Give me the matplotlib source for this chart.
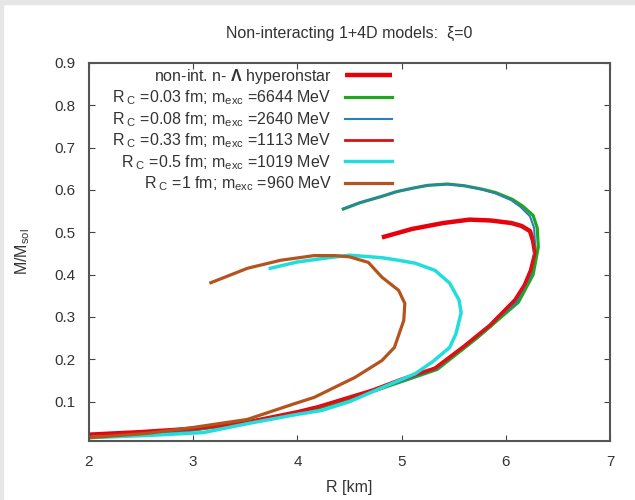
import matplotlib
matplotlib.use("Agg")
import matplotlib.pyplot as plt
from matplotlib.patches import Rectangle

plt.rcParams['font.family'] = ['Liberation Sans', 'DejaVu Sans']
plt.rcParams['mathtext.fontset'] = 'custom'
plt.rcParams['mathtext.rm'] = 'Liberation Sans'
plt.rcParams['mathtext.it'] = 'Liberation Sans:italic'
plt.rcParams['mathtext.bf'] = 'Liberation Sans:bold'

title = "Non-interacting 1+4D models:  ξ=0"
xlabel = "R [km]"
ylabel = r"M/M$_\mathregular{sol}$"
xticks = [2, 3, 4, 5, 6, 7]
yticks = [0.1, 0.2, 0.3, 0.4, 0.5, 0.6, 0.7, 0.8, 0.9]

labels = [
    r"non-int. n- $\mathbf{\Lambda}$ hyperonstar",
    r"R$_{\ \mathregular{C}}$ =0.03 fm; m$_\mathregular{exc}$ =6644 MeV",
    r"R$_{\ \mathregular{C}}$ =0.08 fm; m$_\mathregular{exc}$ =2640 MeV",
    r"R$_{\ \mathregular{C}}$ =0.33 fm; m$_\mathregular{exc}$ =1113 MeV",
    r"R$_{\ \mathregular{C}}$ =0.5 fm; m$_\mathregular{exc}$ =1019 MeV",
    r"R$_{\ \mathregular{C}}$ =1 fm; m$_\mathregular{exc}$ =960 MeV",
]

nonint_R = [2.0, 2.5, 3.0, 3.5, 4.0, 4.2, 4.72, 5.0, 5.32, 5.6, 5.85, 6.09, 6.18, 6.24, 6.28, 6.26, 6.23, 6.15, 6.05, 5.85, 5.65, 5.4, 5.1, 4.81]
nonint_M = [0.022, 0.028, 0.036, 0.05, 0.075, 0.087, 0.126, 0.152, 0.178, 0.23, 0.28, 0.34, 0.375, 0.41, 0.45, 0.48, 0.503, 0.515, 0.522, 0.528, 0.53, 0.522, 0.508, 0.488]

green_R = [2.0, 2.5, 3.0, 3.5, 4.0, 4.2, 4.72, 5.34, 5.72, 6.12, 6.26, 6.31, 6.3, 6.26, 6.16, 6.06, 5.9, 5.77, 5.6, 5.44, 5.25, 5.1, 4.95, 4.81, 4.6, 4.44]
green_M = [0.015, 0.022, 0.033, 0.05, 0.073, 0.085, 0.124, 0.176, 0.25, 0.335, 0.4, 0.465, 0.51, 0.54, 0.562, 0.578, 0.594, 0.602, 0.61, 0.614, 0.611, 0.604, 0.596, 0.585, 0.57, 0.555]

blue_R = [2.0, 2.5, 3.0, 3.5, 4.0, 4.2, 4.72, 5.33, 5.7, 6.1, 6.24, 6.28, 6.27, 6.23, 6.14, 6.05, 5.9, 5.77, 5.6, 5.44, 5.25, 5.1, 4.95, 4.81, 4.6, 4.44]
blue_M = [0.015, 0.022, 0.033, 0.05, 0.074, 0.086, 0.125, 0.177, 0.25, 0.335, 0.4, 0.465, 0.51, 0.538, 0.56, 0.576, 0.592, 0.601, 0.61, 0.614, 0.611, 0.604, 0.596, 0.585, 0.57, 0.556]

red33_R = [2.0, 2.5, 3.0, 3.5, 4.0, 4.2, 4.72, 5.0, 5.32, 5.6, 5.85, 6.09, 6.18, 6.24, 6.28, 6.26, 6.23, 6.15, 6.05]
red33_M = [0.02, 0.027, 0.035, 0.05, 0.075, 0.087, 0.126, 0.152, 0.178, 0.23, 0.28, 0.34, 0.375, 0.41, 0.45, 0.48, 0.503, 0.515, 0.522]

cyan_R = [2.0, 2.56, 3.1, 3.52, 4.0, 4.23, 4.5, 4.81, 5.13, 5.3, 5.46, 5.52, 5.57, 5.55, 5.46, 5.32, 5.13, 4.97, 4.81, 4.5, 4.3, 4.0, 3.74]
cyan_M = [0.015, 0.02, 0.027, 0.048, 0.07, 0.079, 0.1, 0.133, 0.166, 0.195, 0.228, 0.26, 0.31, 0.34, 0.38, 0.41, 0.427, 0.434, 0.44, 0.446, 0.44, 0.43, 0.415]

brown_R = [2.01, 2.56, 3.0, 3.52, 3.97, 4.16, 4.55, 4.81, 4.93, 5.02, 5.03, 4.97, 4.81, 4.68, 4.5, 4.36, 4.16, 3.84, 3.52, 3.17]
brown_M = [0.015, 0.025, 0.039, 0.058, 0.095, 0.11, 0.157, 0.197, 0.228, 0.292, 0.332, 0.363, 0.394, 0.429, 0.442, 0.445, 0.445, 0.434, 0.415, 0.381]

fig = plt.figure(figsize=(6.35, 5.0), dpi=100)
fig.patch.set_facecolor('white')
fig.patches.append(Rectangle((0, 0.992), 1, 0.008, transform=fig.transFigure, color='#e6e6e6', zorder=0))
fig.patches.append(Rectangle((0, 0), 0.005, 1, transform=fig.transFigure, color='#e6e6e6', zorder=0))

ax = fig.add_axes([0.140, 0.118, 0.821, 0.756])

ax.plot(nonint_R, nonint_M, color='#e8000b', lw=3.2, label=labels[0], solid_capstyle='butt')
ax.plot(green_R, green_M, color='#1fa81f', lw=2.3, label=labels[1])
ax.plot(blue_R, blue_M, color='#2c7fb8', lw=1.5, label=labels[2])
ax.plot(red33_R, red33_M, color='#dd1111', lw=2.0, label=labels[3])
ax.plot(cyan_R, cyan_M, color='#22dddd', lw=2.5, label=labels[4])
ax.plot(brown_R, brown_M, color='#b4531c', lw=2.3, label=labels[5])

ax.set_xlim(2, 7)
ax.set_ylim(0.007, 0.9)
ax.set_xticks(xticks)
ax.set_yticks(yticks)
ax.set_yticklabels([f"{v:.1f}" for v in yticks])
ax.tick_params(direction='in', top=True, right=True, length=4, width=0.8,
               colors='#444444', labelcolor='#333333', labelsize=11, pad=10)
for s in ax.spines.values():
    s.set_color('#555555')
    s.set_linewidth(1.5)

ax.set_title(title, fontsize=11.5, color='#333333', pad=18)
ax.set_xlabel(xlabel, fontsize=11.5, color='#333333', labelpad=8)
ax.set_ylabel(ylabel, fontsize=11.5, color='#333333', labelpad=16)

leg = ax.legend(loc='upper right', frameon=False, markerfirst=False, fontsize=11.5,
                handlelength=3.0, handletextpad=0.8, labelspacing=0.17,
                borderaxespad=0.0, borderpad=0.25, bbox_to_anchor=(0.59, 1.0))
for t in leg.get_texts():
    t.set_color('#333333')
    t.set_ha('right')
leg._legend_box.align = 'right'

fig.savefig('out.png', dpi=100)
